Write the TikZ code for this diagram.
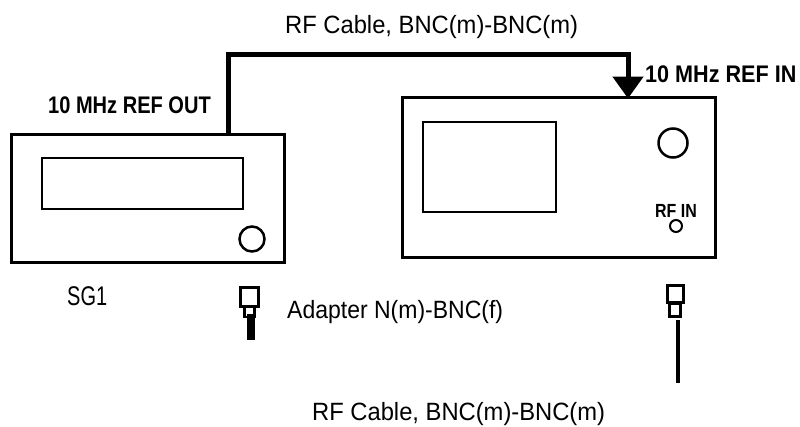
\documentclass[tikz,border=0pt]{standalone}
\usepackage{fontspec}
\usepackage{graphicx}
\setmainfont{Liberation Sans}
\usetikzlibrary{arrows.meta}
\newcommand{\cnd}[2]{\scalebox{#1}[1]{#2}}
\tikzset{
  box/.style={draw, line width=3pt, inner sep=0pt},
  screen/.style={draw, line width=2.5pt, inner sep=0pt},
  knob/.style={draw, circle, line width=2.5pt, inner sep=0pt},
  lbl/.style={anchor=base west, inner sep=0pt, font=\fontsize{25}{25}\selectfont},
  blbl/.style={anchor=base west, inner sep=0pt, font=\fontsize{24}{24}\selectfont\bfseries},
  cable/.style={line width=5pt, -{Triangle[width=30pt,length=22pt]}},
  conn/.style={draw, line width=2.5pt, inner sep=0pt}
}
\begin{document}
\begin{tikzpicture}[x=1pt,y=-1pt]
\useasboundingbox (0,0) rectangle (800,426);
% SG1
\node[box, minimum width=273pt, minimum height=128pt] (sg1) at (147.5,198) {};
\node[screen, minimum width=201pt, minimum height=51pt] (sg1scr) at (142.5,183.5) {};
\node[knob, minimum size=25pt] (sg1knob) at (252,239) {};
% analyzer
\node[box, minimum width=313pt, minimum height=160pt] (an) at (558.5,177) {};
\node[screen, minimum width=133pt, minimum height=90pt] (anscr) at (489.5,167) {};
\node[knob, minimum size=29pt] (refin) at (673,143) {};
\node[knob, minimum size=12pt, line width=2pt] (rfin) at (676,226) {};
\node[anchor=base west, inner sep=0pt, font=\fontsize{19}{19}\selectfont\bfseries] (rfinl) at (655,217) {\cnd{0.84}{RF IN}};
% cable
\coordinate (outp) at (228,135.5);
\coordinate (inp) at (628,98.5);
\draw[cable] (outp) -- (228,54) -- (628,54) -- (inp);
% labels
\node[lbl] (topl) at (285,33) {\cnd{0.95}{RF Cable, BNC(m)-BNC(m)}};
\node[blbl] (outl) at (48,113) {\cnd{0.835}{10 MHz REF OUT}};
\node[blbl] (inl) at (645,82) {\cnd{0.9}{10 MHz REF IN}};
\node[lbl, font=\fontsize{27}{27}\selectfont] (sg1l) at (67,305) {\cnd{0.74}{SG1}};
\node[lbl] (adl) at (287,318) {\cnd{0.92}{Adapter N(m)-BNC(f)}};
\node[lbl] (botl) at (312,420) {\cnd{0.95}{RF Cable, BNC(m)-BNC(m)}};
% adapter connector
\node[conn, minimum width=18pt, minimum height=19pt] (adsq) at (249.5,297) {};
\node[conn, minimum width=10pt, minimum height=10pt] (adsm) at (249.5,312) {};
\fill (247,314) rectangle (255,340);
% right cable connector
\node[conn, minimum width=16pt, minimum height=17pt] (rcsq) at (675.5,294) {};
\node[conn, minimum width=11pt, minimum height=13pt] (rcsm) at (675,310) {};
\draw[line width=4pt] (rcsm.south -| 677.5,0) ++(0,2) -- (677.5,383);
\end{tikzpicture}
\end{document}
